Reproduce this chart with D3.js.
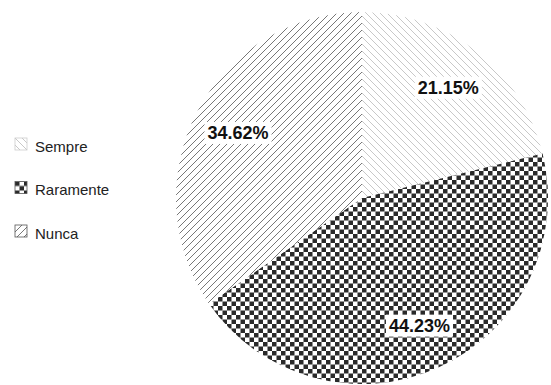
<!DOCTYPE html>
<html>
<head>
<meta charset="utf-8">
<script src="https://cdn.jsdelivr.net/npm/d3@7"></script>
<style>
  html, body { margin: 0; padding: 0; background: #fff; }
  svg { display: block; font-family: "Liberation Sans", Arial, sans-serif; }
</style>
</head>
<body>
<svg id="chart" width="551" height="385"></svg>
<script>
// Answers and their shares (%)
const categories = ["Sempre", "Raramente", "Nunca"];
const shares = [21.15, 44.23, 34.62];
const fills = ["url(#hatch-light)", "url(#checker)", "url(#hatch-dark)"];

const svg = d3.select("#chart");
const cx = 362, cy = 198, R = 186, labelR = 140;

// Fill patterns
const defs = svg.append("defs");

const light = defs.append("pattern")
  .attr("id", "hatch-light").attr("patternUnits", "userSpaceOnUse")
  .attr("width", 7).attr("height", 7);
light.append("rect").attr("width", 7).attr("height", 7).attr("fill", "#fff");
light.append("path").attr("d", "M-1,-1 L8,8 M-1,6 L1,8 M6,-1 L8,1")
  .attr("stroke", "#c8c8c8").attr("stroke-width", 1);

const dark = defs.append("pattern")
  .attr("id", "hatch-dark").attr("patternUnits", "userSpaceOnUse")
  .attr("width", 7).attr("height", 7);
dark.append("rect").attr("width", 7).attr("height", 7).attr("fill", "#fff");
dark.append("path").attr("d", "M-1,8 L8,-1 M-1,1 L1,-1 M6,8 L8,6")
  .attr("stroke", "#777").attr("stroke-width", 1);

const checker = defs.append("pattern")
  .attr("id", "checker").attr("patternUnits", "userSpaceOnUse")
  .attr("width", 9).attr("height", 9);
checker.append("rect").attr("width", 9).attr("height", 9).attr("fill", "#fff");
checker.append("rect").attr("width", 4.5).attr("height", 4.5).attr("fill", "#2a2a2a");
checker.append("rect").attr("x", 4.5).attr("y", 4.5).attr("width", 4.5).attr("height", 4.5).attr("fill", "#2a2a2a");

// Pie, clockwise from 12 o'clock in data order
const pie = d3.pie().sort(null).value(d => d)(shares);
const arc = d3.arc().innerRadius(0).outerRadius(R);
const labelArc = d3.arc().innerRadius(labelR).outerRadius(labelR);

const g = svg.append("g").attr("transform", `translate(${cx},${cy})`);
g.selectAll("path.slice").data(pie).join("path")
  .attr("class", "slice")
  .attr("d", arc)
  .attr("fill", (d, i) => fills[i]);

// Value labels on white boxes
const labels = g.selectAll("g.lbl").data(pie).join("g")
  .attr("class", "lbl")
  .attr("transform", d => `translate(${labelArc.centroid(d)})`);
labels.each(function(d) {
  const sel = d3.select(this);
  const t = sel.append("text")
    .attr("text-anchor", "middle")
    .attr("dominant-baseline", "central")
    .attr("font-size", 18).attr("font-weight", "bold").attr("fill", "#111")
    .text(d.data.toFixed(2) + "%");
  const b = t.node().getBBox();
  sel.insert("rect", "text")
    .attr("x", b.x - 3).attr("y", b.y - 1)
    .attr("width", b.width + 6).attr("height", b.height + 2)
    .attr("fill", "#fff");
});

// Legend
const legend = svg.append("g").attr("transform", "translate(15,138)");
const items = legend.selectAll("g").data(categories).join("g")
  .attr("transform", (d, i) => `translate(0,${i * 43.5})`);
items.append("rect")
  .attr("width", 12).attr("height", 12)
  .attr("fill", (d, i) => fills[i])
  .attr("stroke", (d, i) => i === 0 ? "#ccc" : "#555").attr("stroke-width", 0.8);
items.append("text")
  .attr("x", 20).attr("y", 8)
  .attr("dominant-baseline", "central")
  .attr("font-size", 15).attr("fill", "#222")
  .text(d => d);
</script>
</body>
</html>
